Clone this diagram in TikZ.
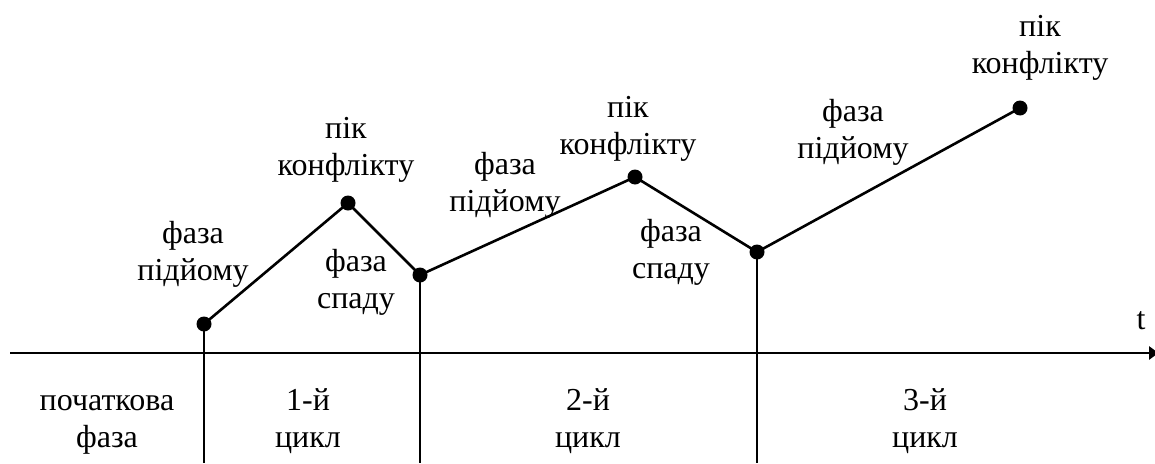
\documentclass[tikz,border=0pt]{standalone}
\usepackage{fontspec}
\setmainfont{Liberation Serif}
\usetikzlibrary{arrows.meta}
\tikzset{
  % anchor=base sits on the baseline of the last line of a label
  lbl/.style={font=\fontsize{32}{36.5}\selectfont, align=center, anchor=base, inner sep=0pt},
  dot/.style={circle, fill=black, minimum size=15pt, inner sep=0pt},
  graph/.style={line width=2.6pt},
  drop/.style={line width=2pt},
  axis/.style={line width=2.8pt, -{Latex[length=11pt,width=15pt]}}
}
\begin{document}
\begin{tikzpicture}[x=1pt, y=-1pt]
  \useasboundingbox (0,0) rectangle (1155,463);

  % time axis
  \coordinate (ax0) at (10,353);
  \coordinate (ax1) at (1160,353);
  \draw[axis] (ax0) -- (ax1);
  \node[lbl] (t) at (1141,329) {t};

  % turning points of the conflict curve
  \node[dot] (p1) at (204,324) {};
  \node[dot] (p2) at (348,203) {};
  \node[dot] (p3) at (420,275) {};
  \node[dot] (p4) at (635,177) {};
  \node[dot] (p5) at (757,252) {};
  \node[dot] (p6) at (1020,108) {};

  \draw[graph] (p1.center) -- (p2.center) -- (p3.center) -- (p4.center)
               -- (p5.center) -- (p6.center);

  % cycle boundaries
  \coordinate (b1) at (204,463);
  \coordinate (b2) at (420,463);
  \coordinate (b3) at (757,463);
  \draw[drop] (p1.center) -- (b1);
  \draw[drop] (p3.center) -- (b2);
  \draw[drop] (p5.center) -- (b3);

  % phase labels
  \node[lbl] (up1)   at (193,280) {фаза\\підйому};
  \node[lbl] (peak1) at (346,175) {пік\\конфлікту};
  \node[lbl] (down1) at (356,308) {фаза\\спаду};
  \node[lbl] (up2)   at (505,211) {фаза\\підйому};
  \node[lbl] (peak2) at (628,154) {пік\\конфлікту};
  \node[lbl] (down2) at (671,278) {фаза\\спаду};
  \node[lbl] (up3)   at (853,158) {фаза\\підйому};
  \node[lbl] (peak3) at (1040,73) {пік\\конфлікту};

  % stage labels under the axis
  \node[lbl] (s0) at (107,447) {початкова\\фаза};
  \node[lbl] (s1) at (308,447) {1-й\\цикл};
  \node[lbl] (s2) at (588,447) {2-й\\цикл};
  \node[lbl] (s3) at (925,447) {3-й\\цикл};
\end{tikzpicture}
\end{document}
